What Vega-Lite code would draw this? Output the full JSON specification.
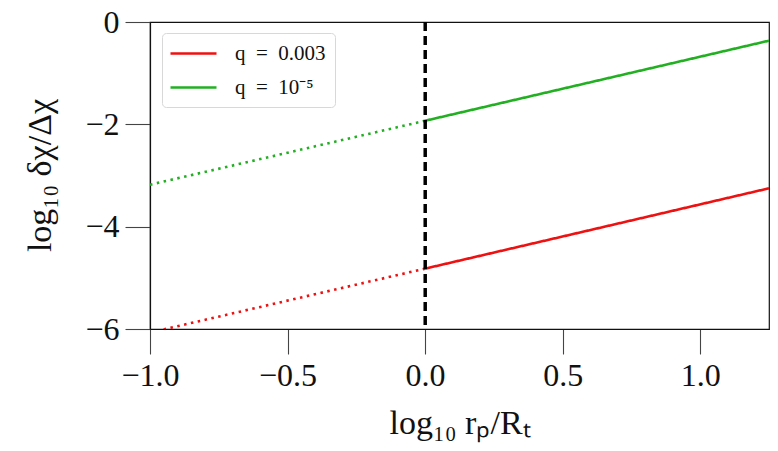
{
  "$schema": "https://vega.github.io/schema/vega-lite/v6.json",
  "width": 619,
  "height": 307,
  "autosize": "none",
  "padding": {"left": 150, "top": 22, "right": 9, "bottom": 122},
  "background": "white",
  "data": {
    "values": [
      {"x": -1.0, "y": -6.07, "q": "q = 0.003", "seg": "dotted"},
      {"x": 0.0, "y": -4.82, "q": "q = 0.003", "seg": "dotted"},
      {"x": 0.0, "y": -4.82, "q": "q = 0.003", "seg": "solid"},
      {"x": 1.25, "y": -3.25, "q": "q = 0.003", "seg": "solid"},
      {"x": -1.0, "y": -3.18, "q": "q = 10⁻⁵", "seg": "dotted"},
      {"x": 0.0, "y": -1.93, "q": "q = 10⁻⁵", "seg": "dotted"},
      {"x": 0.0, "y": -1.93, "q": "q = 10⁻⁵", "seg": "solid"},
      {"x": 1.25, "y": -0.365, "q": "q = 10⁻⁵", "seg": "solid"}
    ]
  },
  "layer": [
    {
      "mark": {"type": "line", "strokeWidth": 2.6, "clip": true},
      "encoding": {
        "x": {
          "field": "x",
          "type": "quantitative",
          "scale": {"domain": [-1, 1.25], "nice": false, "zero": false},
          "axis": {
            "title": "log₁₀ rₚ/Rₜ",
            "values": [-1, -0.5, 0, 0.5, 1],
            "format": ".1f",
            "titleY": 94,
            "titleBaseline": "middle"
          }
        },
        "y": {
          "field": "y",
          "type": "quantitative",
          "scale": {"domain": [-6, 0], "nice": false, "zero": false},
          "axis": {
            "title": "log₁₀ δχ/Δχ",
            "values": [-6, -4, -2, 0],
            "format": "d",
            "titleX": -110,
            "titleY": 153,
            "titleAngle": -90,
            "titleAlign": "center",
            "titleBaseline": "middle"
          }
        },
        "color": {
          "field": "q",
          "type": "nominal",
          "scale": {"domain": ["q = 0.003", "q = 10⁻⁵"], "range": ["#ee1111", "#22b022"]},
          "legend": {
            "title": null,
            "labelExpr": "replace(replace(datum.label, ' = ', '\u2002=\u2002'), ' = ', '\u2002=\u2002')"
          }
        },
        "strokeDash": {
          "field": "seg",
          "type": "nominal",
          "scale": {"domain": ["dotted", "solid"], "range": [[2.5, 4.5], [1, 0]]},
          "legend": null
        }
      }
    },
    {
      "mark": {"type": "rule", "color": "black", "strokeWidth": 2.4, "strokeDash": [9, 5]},
      "encoding": {"x": {"datum": 0}}
    }
  ],
  "config": {
    "font": "Liberation Serif",
    "view": {"stroke": "#111", "strokeWidth": 1.2},
    "axis": {
      "grid": false,
      "domainColor": "#111",
      "domainWidth": 1.2,
      "tickColor": "#444",
      "tickWidth": 1.1,
      "tickSize": 25,
      "labelFontSize": 32,
      "labelColor": "#111",
      "labelPadding": 6,
      "labelFlush": false,
      "labelOverlap": false,
      "titleFontSize": 34,
      "titleFontWeight": "normal",
      "titleColor": "#111"
    },
    "legend": {
      "orient": "none",
      "legendX": 12,
      "legendY": 11,
      "padding": 9,
      "strokeColor": "#d8d8d8",
      "cornerRadius": 4,
      "fillColor": "white",
      "symbolType": "M-2.3,0H2.3",
      "symbolSize": 400,
      "symbolStrokeWidth": 2.6,
      "labelFontSize": 21,
      "labelColor": "#111",
      "labelOffset": 30,
      "rowPadding": 12,
      "symbolOffset": 11
    }
  }
}
